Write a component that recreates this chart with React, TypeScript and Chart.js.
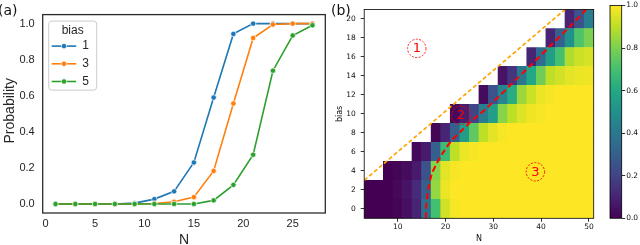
import React, { useEffect, useRef } from 'react';
import { Chart, registerables } from 'chart.js';

Chart.register(...registerables);

// ---------------- panel (a) data ----------------
const nValues = [1, 3, 5, 7, 9, 11, 13, 15, 17, 19, 21, 23, 25, 27];
const probBias1 = [0, 0, 0, 0, 0.005, 0.027, 0.07, 0.23, 0.59, 0.943, 1, 1, 1, 1];
const probBias3 = [0, 0, 0, 0, 0, 0.003, 0.012, 0.038, 0.183, 0.557, 0.92, 0.995, 1, 1];
const probBias5 = [0, 0, 0, 0, 0, 0, 0, 0, 0.02, 0.106, 0.273, 0.739, 0.934, 0.991];
const seriesLabels = ['1', '3', '5'];
const seriesColors = ['#1f77b4', '#ff7f0e', '#2ca02c'];
const legendTitle = 'bias';
const xTitleA = 'N';
const yTitleA = 'Probability';
const xTicksA = [0, 5, 10, 15, 20, 25];
const yTicksA = [0, 0.2, 0.4, 0.6, 0.8, 1.0];

// ---------------- panel (b) data ----------------
const heatN = [4, 6, 8, 10, 12, 14, 16, 18, 20, 22, 24, 26, 28, 30, 32, 34, 36, 38, 40, 42, 44, 46, 48, 50];
const heatBias = [0, 2, 4, 6, 8, 10, 12, 14, 16, 18, 20];
const _ = null;
const heatRows: (number | null)[][] = [
  [0, 0, 0, 0.01, 0.04, 0.1, 0.37, 0.7, 0.93, 0.99, 1, 1, 1, 1, 1, 1, 1, 1, 1, 1, 1, 1, 1, 1],
  [0, 0, 0, 0.02, 0.05, 0.12, 0.3, 0.84, 0.97, 1, 1, 1, 1, 1, 1, 1, 1, 1, 1, 1, 1, 1, 1, 1],
  [_, _, 0, 0.01, 0.03, 0.07, 0.25, 0.82, 0.96, 0.99, 1, 1, 1, 1, 1, 1, 1, 1, 1, 1, 1, 1, 1, 1],
  [_, _, _, _, _, 0.02, 0.07, 0.3, 0.68, 0.9, 0.97, 0.99, 1, 1, 1, 1, 1, 1, 1, 1, 1, 1, 1, 1],
  [_, _, _, _, _, _, _, 0.01, 0.1, 0.3, 0.55, 0.75, 0.9, 0.96, 0.99, 1, 1, 1, 1, 1, 1, 1, 1, 1],
  [_, _, _, _, _, _, _, _, _, 0.02, 0.08, 0.2, 0.42, 0.55, 0.82, 0.9, 0.95, 0.98, 0.99, 1, 1, 1, 1, 1],
  [_, _, _, _, _, _, _, _, _, _, _, _, 0.03, 0.25, 0.45, 0.62, 0.85, 0.92, 0.97, 0.99, 1, 1, 1, 1],
  [_, _, _, _, _, _, _, _, _, _, _, _, _, _, 0.05, 0.15, 0.4, 0.6, 0.78, 0.9, 0.93, 0.96, 0.97, 0.98],
  [_, _, _, _, _, _, _, _, _, _, _, _, _, _, _, _, _, 0.1, 0.35, 0.55, 0.7, 0.88, 0.92, 0.94],
  [_, _, _, _, _, _, _, _, _, _, _, _, _, _, _, _, _, _, _, 0.1, 0.3, 0.5, 0.72, 0.8],
  [_, _, _, _, _, _, _, _, _, _, _, _, _, _, _, _, _, _, _, _, _, 0.1, 0.25, 0.42],
];
const xTitleB = 'N';
const yTitleB = 'bias';
const xTicksB = [10, 20, 30, 40, 50];
const yTicksB = [0, 2, 4, 6, 8, 10, 12, 14, 16, 18, 20];
const boundaryN = [3, 45];
const boundaryBias = [3, 21];
const criticalN = [15.9, 16.0, 16.4, 17.1, 18.2, 19.6, 21.3, 23.5, 26, 28.6, 31.5, 34.5, 38, 42, 46, 49.6];
const criticalBias = [-1, 0.5, 2, 3.6, 4.8, 6, 7.2, 8.3, 9.5, 10.6, 12, 13.5, 15.2, 17.2, 19.2, 21.1];
const regionLabels = ['1', '2', '3'];
const regionN = [14, 23.2, 38.8];
const regionBias = [16.9, 9.85, 3.9];
const colorbarTicks = [0, 0.2, 0.4, 0.6, 0.8, 1.0];

// ---------------- helpers ----------------
const VIRIDIS = ['#440154', '#482475', '#414487', '#355f8d', '#2a788e', '#21918c', '#22a884', '#44bf70', '#7ad151', '#bddf26', '#fde725'];
function hexToRgb(h: string) {
  return [parseInt(h.slice(1, 3), 16), parseInt(h.slice(3, 5), 16), parseInt(h.slice(5, 7), 16)];
}
function viridis(t: number) {
  const v = Math.max(0, Math.min(1, t)) * 10;
  const i = Math.min(9, Math.floor(v));
  const f = v - i;
  const a = hexToRgb(VIRIDIS[i]);
  const b = hexToRgb(VIRIDIS[i + 1]);
  const c = a.map((x, k) => Math.round(x + (b[k] - x) * f));
  return `rgb(${c[0]},${c[1]},${c[2]})`;
}
const fixedTicks = (vals: number[]) => (scale: any) => {
  scale.ticks = vals.map((v) => ({ value: v }));
};
const framePlugin = (id: string, color: string, width: number) => ({
  id,
  afterDraw(chart: any) {
    const { ctx, chartArea: a } = chart;
    ctx.save();
    ctx.strokeStyle = color;
    ctx.lineWidth = width;
    ctx.strokeRect(a.left, a.top, a.right - a.left, a.bottom - a.top);
    ctx.restore();
  },
});

const SANS_A = "'Liberation Sans', Arial, sans-serif";
const SANS_B = "'DejaVu Sans', sans-serif";

const legendPlugin = {
  id: 'biasLegend',
  afterDraw(chart: any) {
    const { ctx, chartArea } = chart;
    const x0 = chartArea.left + 5.5;
    const y0 = chartArea.top + 6;
    ctx.save();
    ctx.beginPath();
    ctx.roundRect(x0 + 0.5, y0 + 0.5, 48, 69, 3);
    ctx.fillStyle = 'rgba(255,255,255,0.85)';
    ctx.fill();
    ctx.strokeStyle = '#cccccc';
    ctx.lineWidth = 1;
    ctx.stroke();
    ctx.fillStyle = '#262626';
    ctx.font = `12px ${SANS_A}`;
    ctx.textAlign = 'center';
    ctx.textBaseline = 'middle';
    ctx.fillText(legendTitle, x0 + 24.5, y0 + 10);
    chart.data.datasets.forEach((ds: any, i: number) => {
      const y = y0 + 25.5 + i * 17.7;
      ctx.strokeStyle = ds.borderColor;
      ctx.lineWidth = 1.6;
      ctx.beginPath();
      ctx.moveTo(x0 + 3.5, y);
      ctx.lineTo(x0 + 28, y);
      ctx.stroke();
      ctx.beginPath();
      ctx.arc(x0 + 15.8, y, 2.7, 0, Math.PI * 2);
      ctx.fillStyle = ds.borderColor;
      ctx.fill();
      ctx.strokeStyle = '#ffffff';
      ctx.lineWidth = 0.7;
      ctx.stroke();
      ctx.fillStyle = '#262626';
      ctx.textAlign = 'left';
      ctx.fillText(ds.label, x0 + 34, y);
    });
    ctx.restore();
  },
};

const yTitlePluginA = {
  id: 'yTitleA',
  afterDraw(chart: any) {
    const { ctx, chartArea } = chart;
    ctx.save();
    ctx.translate(10.5, (chartArea.top + chartArea.bottom) / 2 - 3);
    ctx.rotate(-Math.PI / 2);
    ctx.font = `14px ${SANS_A}`;
    ctx.fillStyle = '#262626';
    ctx.textAlign = 'center';
    ctx.textBaseline = 'middle';
    ctx.fillText(yTitleA, 0, 0);
    ctx.restore();
  },
};

const regionPlugin = {
  id: 'regions',
  afterDatasetsDraw(chart: any) {
    const { ctx, scales } = chart;
    ctx.save();
    regionLabels.forEach((lab, i) => {
      const px = scales.x.getPixelForValue(regionN[i]);
      const py = scales.y.getPixelForValue(regionBias[i]);
      ctx.beginPath();
      ctx.setLineDash([2, 1.5]);
      ctx.lineWidth = 0.9;
      ctx.strokeStyle = '#ff0000';
      ctx.arc(px, py, 9.2, 0, Math.PI * 2);
      ctx.stroke();
      ctx.setLineDash([]);
      ctx.fillStyle = '#ff0000';
      ctx.font = `13px ${SANS_B}`;
      ctx.textAlign = 'center';
      ctx.textBaseline = 'middle';
      ctx.fillText(lab, px, py + 0.5);
    });
    ctx.restore();
  },
};

function makeLeftConfig(): any {
  const series = [probBias1, probBias3, probBias5];
  return {
    type: 'line',
    data: {
      datasets: series.map((vals, k) => ({
        label: seriesLabels[k],
        data: nValues.map((x, i) => ({ x, y: vals[i] })),
        borderColor: seriesColors[k],
        backgroundColor: seriesColors[k],
        borderWidth: 1.6,
        pointRadius: 2.7,
        pointBackgroundColor: seriesColors[k],
        pointBorderColor: '#ffffff',
        pointBorderWidth: 0.7,
        order: 3 - k,
      })),
    },
    options: {
      animation: false,
      responsive: false,
      layout: { padding: { top: 3, right: 4, left: 0, bottom: 0 } },
      plugins: { legend: { display: false }, tooltip: { enabled: false } },
      scales: {
        x: {
          type: 'linear',
          position: 'bottom',
          min: -0.3,
          max: 28.3,
          afterBuildTicks: fixedTicks(xTicksA),
          afterFit: (s: any) => { s.height = 47; },
          grid: { display: false, drawTicks: false },
          border: { display: false },
          ticks: { padding: 4, color: '#262626', font: { family: SANS_A, size: 11 }, maxRotation: 0, autoSkip: false, callback: (v: any) => String(v) },
          title: { display: true, text: xTitleA, color: '#262626', font: { family: SANS_A, size: 14 }, padding: { top: 0, bottom: 11 } },
        },
        y: {
          type: 'linear',
          position: 'left',
          min: -0.05,
          max: 1.05,
          afterBuildTicks: fixedTicks(yTicksA),
          afterFit: (s: any) => { s.width = 42.7; },
          grid: { display: false, drawTicks: false },
          border: { display: false },
          ticks: { padding: 8, color: '#262626', font: { family: SANS_A, size: 11 }, autoSkip: false, callback: (v: any) => Number(v).toFixed(1) },
          title: { display: false },
        },
      },
    },
    plugins: [framePlugin('frameA', '#2b2b2b', 1.3), legendPlugin, yTitlePluginA],
  };
}

function makeHeatConfig(): any {
  const heatDatasets = heatBias.map((b, r) => {
    const cells = heatN
      .map((n, c) => ({ n, v: heatRows[r][c] }))
      .filter((cell) => cell.v !== null);
    return {
      type: 'bar',
      label: `bias ${b}`,
      data: cells.map((cell) => ({ x: cell.n, y: [b - 1, b + 1] })),
      backgroundColor: cells.map((cell) => viridis(cell.v as number)),
      borderWidth: 0,
      grouped: false,
      barPercentage: 1,
      categoryPercentage: 1,
      order: 2,
    };
  });
  return {
    type: 'bar',
    data: {
      datasets: [
        {
          type: 'line',
          label: 'boundary',
          data: boundaryN.map((x, i) => ({ x, y: boundaryBias[i] })),
          borderColor: '#ffa500',
          borderWidth: 1.7,
          borderDash: [4, 2.5],
          pointRadius: 0,
          order: 0,
        },
        {
          type: 'line',
          label: 'critical',
          data: criticalN.map((x, i) => ({ x, y: criticalBias[i] })),
          borderColor: '#ff0000',
          borderWidth: 2,
          borderDash: [6, 3.5],
          pointRadius: 0,
          tension: 0.3,
          order: 0,
        },
        ...heatDatasets,
      ],
    },
    options: {
      animation: false,
      responsive: false,
      layout: { padding: { top: 2.3, right: 11.3, left: 0, bottom: 0 } },
      plugins: { legend: { display: false }, tooltip: { enabled: false } },
      scales: {
        x: {
          type: 'linear',
          min: 3,
          max: 51,
          offset: false,
          afterBuildTicks: fixedTicks(xTicksB),
          afterFit: (s: any) => { s.height = 41.7; },
          grid: { display: true, drawOnChartArea: false, drawTicks: true, tickLength: 3.5, color: '#000', lineWidth: 0.8, offset: false },
          border: { display: false },
          ticks: { padding: 1.2, color: '#111', font: { family: SANS_B, size: 7.5 }, maxRotation: 0, autoSkip: false, callback: (v: any) => String(v) },
          title: { display: true, text: xTitleB, color: '#111', font: { family: SANS_B, size: 8 }, padding: { top: 0, bottom: 16.7 } },
        },
        y: {
          type: 'linear',
          min: -1,
          max: 21,
          afterBuildTicks: fixedTicks(yTicksB),
          afterFit: (s: any) => { s.width = 34.2; },
          grid: { display: true, drawOnChartArea: false, drawTicks: true, tickLength: 3.5, color: '#000', lineWidth: 0.8 },
          border: { display: false },
          ticks: { padding: 5, color: '#111', font: { family: SANS_B, size: 7.5 }, autoSkip: false, callback: (v: any) => String(v) },
          title: { display: true, text: yTitleB, color: '#111', font: { family: SANS_B, size: 8 }, padding: { top: 5.2, bottom: 0 } },
        },
      },
    },
    plugins: [framePlugin('frameB', '#000', 0.8), regionPlugin],
  };
}

function makeColorbarConfig(): any {
  return {
    type: 'bar',
    data: {
      labels: [''],
      datasets: [
        {
          data: [[colorbarTicks[0], colorbarTicks[colorbarTicks.length - 1]]],
          backgroundColor: (ctx: any) => {
            const ca = ctx.chart.chartArea;
            if (!ca) return VIRIDIS[0];
            const g = ctx.chart.ctx.createLinearGradient(0, ca.bottom, 0, ca.top);
            VIRIDIS.forEach((c, i) => g.addColorStop(i / (VIRIDIS.length - 1), c));
            return g;
          },
          borderWidth: 0,
          barPercentage: 1,
          categoryPercentage: 1,
        },
      ],
    },
    options: {
      animation: false,
      responsive: false,
      layout: { padding: { top: 2.3, right: 0, left: 5, bottom: 41.7 } },
      plugins: { legend: { display: false }, tooltip: { enabled: false } },
      scales: {
        x: { display: false },
        y: {
          position: 'right',
          min: 0,
          max: 1,
          afterBuildTicks: fixedTicks(colorbarTicks),
          afterFit: (s: any) => { s.width = 23.3; },
          grid: { display: true, drawOnChartArea: false, drawTicks: true, tickLength: 3.5, color: '#000', lineWidth: 0.8 },
          border: { display: false },
          ticks: { padding: 1, color: '#111', font: { family: SANS_B, size: 7.5 }, autoSkip: false, callback: (v: any) => Number(v).toFixed(1) },
        },
      },
    },
    plugins: [framePlugin('frameC', '#000', 0.8)],
  };
}

export default function App() {
  const aRef = useRef<HTMLCanvasElement>(null);
  const bRef = useRef<HTMLCanvasElement>(null);
  const cRef = useRef<HTMLCanvasElement>(null);

  useEffect(() => {
    const charts = [
      new Chart(aRef.current as HTMLCanvasElement, makeLeftConfig()),
      new Chart(bRef.current as HTMLCanvasElement, makeHeatConfig()),
      new Chart(cRef.current as HTMLCanvasElement, makeColorbarConfig()),
    ];
    return () => charts.forEach((c) => c.destroy());
  }, []);

  const labelStyle: any = {
    position: 'absolute',
    font: `14px ${SANS_B}`,
    lineHeight: '14px',
    color: '#111',
    whiteSpace: 'nowrap',
  };

  return (
    <div style={{ position: 'fixed', left: 0, top: 0, width: 640, height: 245, overflow: 'hidden', background: '#fff' }}>
      <canvas ref={aRef} width={330} height={260} style={{ position: 'absolute', left: 0, top: 0, width: 330, height: 260 }} />
      <canvas ref={bRef} width={275} height={260} style={{ position: 'absolute', left: 330, top: 0, width: 275, height: 260 }} />
      <canvas ref={cRef} width={40} height={260} style={{ position: 'absolute', left: 605, top: 0, width: 40, height: 260 }} />
      <div style={{ ...labelStyle, left: -2, top: 3 }}>(a)</div>
      <div style={{ ...labelStyle, left: 331, top: 3 }}>(b)</div>
    </div>
  );
}
